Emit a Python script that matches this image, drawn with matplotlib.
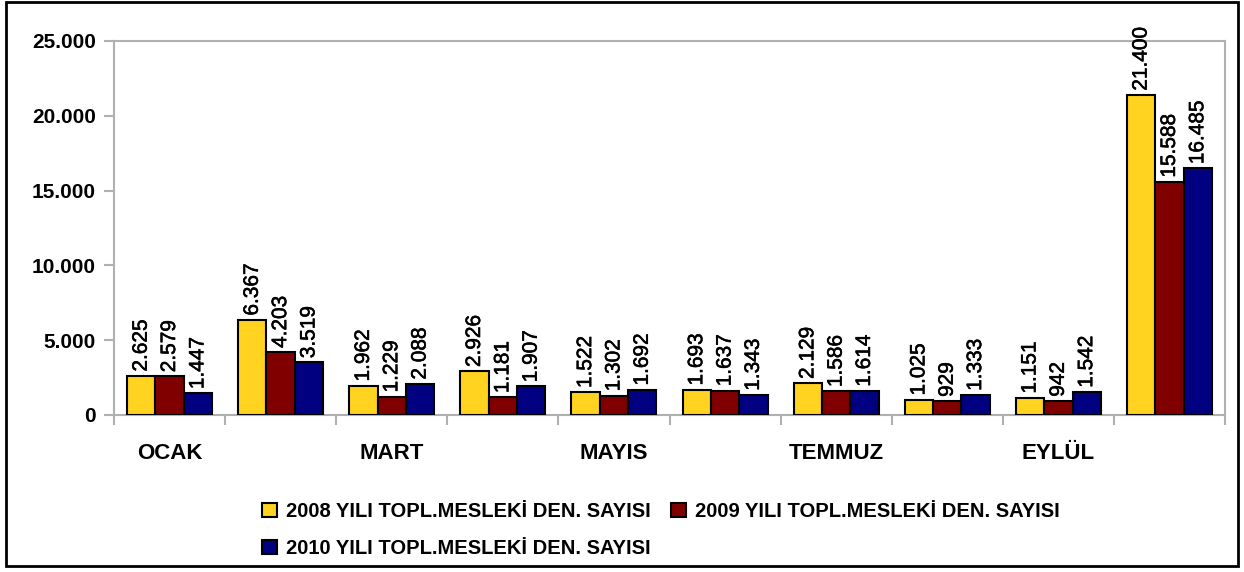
import numpy as np
import matplotlib
matplotlib.use("Agg")
import matplotlib.pyplot as plt
import matplotlib.patheffects as pe
from matplotlib.patches import Rectangle

plt.rcParams['font.family'] = ['Liberation Sans', 'DejaVu Sans']

months = ["OCAK", "ŞUBAT", "MART", "NİSAN", "MAYIS",
          "HAZİRAN", "TEMMUZ", "AĞUSTOS", "EYLÜL", "TOPLAM"]
y2008 = [2625, 6367, 1962, 2926, 1522, 1693, 2129, 1025, 1151, 21400]
y2009 = [2579, 4203, 1229, 1181, 1302, 1637, 1586, 929, 942, 15588]
y2010 = [1447, 3519, 2088, 1907, 1692, 1343, 1614, 1333, 1542, 16485]
series_names = ["2008 YILI TOPL.MESLEKİ DEN. SAYISI",
                "2009 YILI TOPL.MESLEKİ DEN. SAYISI",
                "2010 YILI TOPL.MESLEKİ DEN. SAYISI"]
colors = ["#FFD320", "#800000", "#000080"]

def tr(v):
    return f"{v:,}".replace(",", ".")

fig = plt.figure(figsize=(12.44, 5.72), dpi=100)
ax = fig.add_axes([114/1244, 1 - 415/572, (1225-114)/1244, (415-41)/572])

x = np.arange(len(months))
w = 0.255
bars = []
for i, (vals, c, name) in enumerate(zip([y2008, y2009, y2010], colors, series_names)):
    b = ax.bar(x + (i - 1) * w, vals, w, color=c, edgecolor="black",
               linewidth=1.5, label=name, zorder=3)
    bars.append(b)
    for xi, v in zip(x + (i - 1) * w, vals):
        ax.annotate(tr(v), (xi, v), xytext=(0, 3), textcoords="offset points",
                    rotation=90, ha="center", va="bottom", fontsize=15,
                    annotation_clip=False, clip_on=False,
                    path_effects=[pe.withStroke(linewidth=0.4, foreground="black")])

ax.set_xlim(-0.5, len(months) - 0.5)
ax.set_ylim(0, 25000)
ax.set_yticks(np.arange(0, 25001, 5000))
ax.set_yticklabels([tr(v) for v in range(0, 25001, 5000)],
                   fontsize=15, fontweight="bold")
ax.set_xticks(x)
ax.set_xticklabels([m if i % 2 == 0 else "" for i, m in enumerate(months)],
                   fontsize=16, fontweight="bold")
ax.tick_params(axis="x", length=0, pad=20)
ax.set_xticks(np.arange(-0.5, len(months) + 0.5, 1), minor=True)
ax.tick_params(axis="x", which="minor", length=7, color="#B0B0B0", width=1.5)
ax.tick_params(axis="y", length=7, color="#B0B0B0", width=1.5, pad=6)
for s in ax.spines.values():
    s.set_color("#B0B0B0")
    s.set_linewidth(1.5)

handles = [bars[0], bars[2], bars[1]]
labels = [series_names[0], series_names[2], series_names[1]]
fig.legend(handles, labels, loc="upper left", bbox_to_anchor=(244/1244, 1 - 484/572),
           ncol=2, frameon=False, handlelength=0.75, handleheight=0.65,
           handletextpad=0.45, columnspacing=1.0, labelspacing=0.9,
           prop={"weight": "bold", "size": 14.5})

fig.patches.append(Rectangle((6/1244, 6/572), 1232/1244, 564/572,
                             transform=fig.transFigure, fill=False,
                             edgecolor="black", linewidth=2))
fig.savefig("out.png", dpi=100)
